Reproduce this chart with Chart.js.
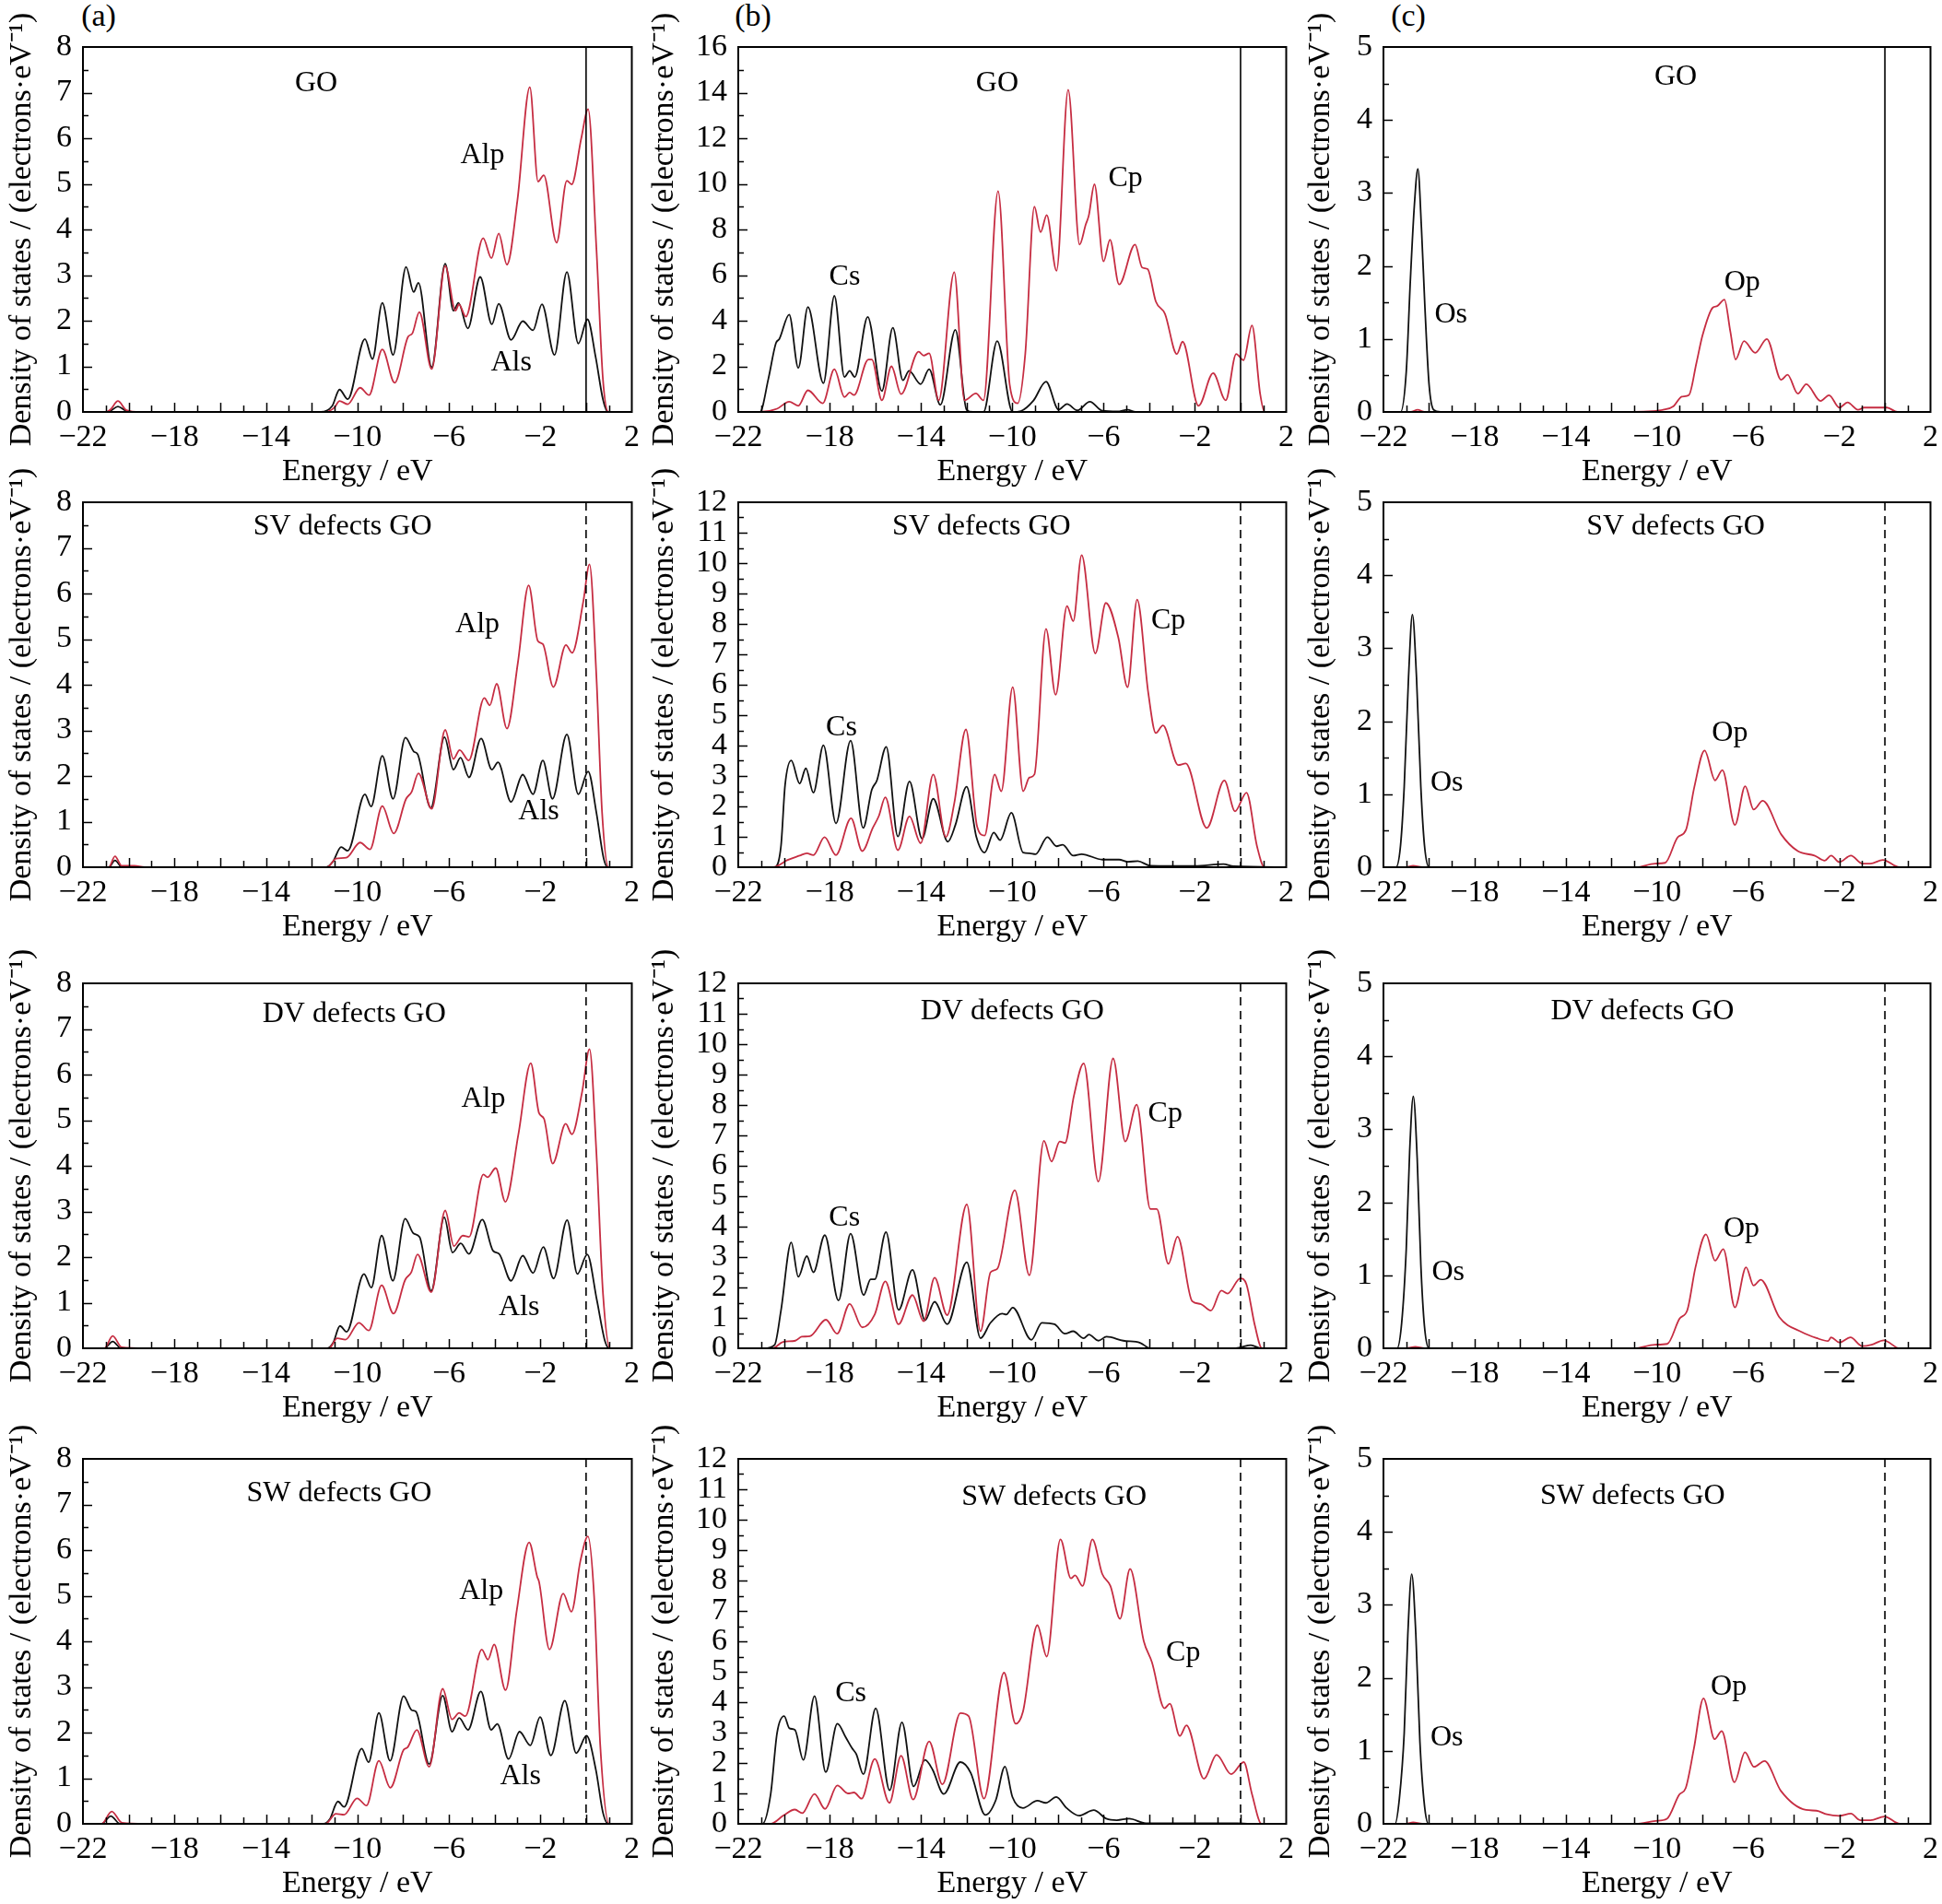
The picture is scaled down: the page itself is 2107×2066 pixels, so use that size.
<!DOCTYPE html>
<html>
<head>
<meta charset="utf-8">
<title>Partial density of states</title>
<script src="https://cdn.jsdelivr.net/npm/chart.js@4.4.1/dist/chart.umd.min.js"></script>
<style>
    html, body { margin: 0; padding: 0; background: #fff; overflow: hidden; }
    body { width: 2107px; height: 2066px; position: relative; font-family: 'Liberation Serif', 'Times New Roman', serif; }
    canvas { position: absolute; }
    .tag { position: absolute; font-size: 34px; line-height: 1; color: #000; transform: translate(-50%, -50%); }
</style>
</head>
<body>
<div class="tag" style="left:107px;top:17px">(a)</div>
<div class="tag" style="left:817px;top:17px">(b)</div>
<div class="tag" style="left:1528px;top:17px">(c)</div>
<script>
// Energy axis
const ENERGY_MIN = -22;
const ENERGY_MAX = 2;
const ENERGY_STEP = 4;
const FERMI_LEVEL = 0;
const ROW_TITLES = ['GO', 'SV defects GO', 'DV defects GO', 'SW defects GO'];

// [energy eV, DOS]
// --- GO ---
const GO_Als = [[-22,0],[-21,0],[-20.8,0.02],[-20.47,0.12],[-20.1,0.02],[-19.5,0],[-11.6,0],[-11.1,0.13],[-10.78,0.49],[-10.42,0.28],[-9.67,1.6],[-9.34,1.16],[-8.91,2.39],[-8.44,1.25],[-7.87,3.18],[-7.54,2.63],[-7.33,2.83],[-6.75,0.98],[-6.16,3.25],[-5.8,2.22],[-5.58,2.39],[-5.17,1.83],[-4.63,2.96],[-4.12,1.92],[-3.82,2.37],[-3.28,1.58],[-2.77,1.99],[-2.32,1.79],[-1.93,2.36],[-1.38,1.25],[-0.84,3.07],[-0.34,1.5],[0.06,2.03],[0.42,1.2],[0.74,0.27],[0.95,0],[2,0]];
const GO_Alp = [[-22,0],[-21,0],[-20.8,0.05],[-20.47,0.24],[-20.1,0.04],[-19.5,0],[-11.4,0],[-11.0,0.1],[-10.78,0.24],[-10.42,0.17],[-9.88,0.53],[-9.49,0.37],[-8.91,1.37],[-8.37,0.64],[-7.78,1.65],[-7.6,1.72],[-7.29,2.19],[-6.75,0.94],[-6.16,3.2],[-5.71,2.22],[-5.56,2.36],[-5.26,2.09],[-4.5,3.81],[-4.14,3.37],[-3.82,3.91],[-3.46,3.23],[-3.0,4.65],[-2.46,7.12],[-2.1,5.05],[-1.85,5.19],[-1.29,3.71],[-0.84,5.07],[-0.63,4.99],[-0.21,6.0],[0.09,6.64],[0.45,3.6],[0.74,0.7],[0.98,0],[2,0]];
const GO_Cs = [[-22,0],[-21.05,0],[-20.68,1.46],[-20.35,3.02],[-20.2,3.2],[-19.77,4.27],[-19.37,1.93],[-18.95,4.6],[-18.27,1.26],[-17.79,5.09],[-17.35,1.53],[-17.12,1.8],[-16.9,1.53],[-16.33,4.17],[-15.71,0.92],[-15.23,3.69],[-14.79,1.39],[-14.52,1.8],[-14.01,1.22],[-13.64,1.87],[-13.15,0.31],[-12.49,3.6],[-12.0,0.1],[-11.72,0],[-11.26,0],[-10.66,3.11],[-9.98,0],[-9.62,0.04],[-9.07,0.5],[-8.52,1.33],[-7.97,0.1],[-7.6,0.35],[-7.15,0.07],[-6.6,0.45],[-6.05,0.05],[-5.4,0.02],[-4.95,0.1],[-4.6,0],[2,0]];
const GO_Cp = [[-22,0],[-21.05,0],[-20.3,0.14],[-19.77,0.45],[-19.37,0.27],[-18.95,0.95],[-18.3,0.38],[-17.79,1.87],[-17.35,0.65],[-17.12,0.85],[-16.93,0.74],[-16.3,2.3],[-16.15,2.3],[-15.71,0.51],[-15.29,2.0],[-14.87,0.78],[-14.1,2.64],[-13.88,2.47],[-13.64,2.57],[-13.22,0.51],[-12.54,6.13],[-12.09,0.51],[-11.59,0.81],[-11.26,0.51],[-10.62,9.68],[-10.11,1.19],[-9.76,0.38],[-9.43,2.54],[-9.03,9.0],[-8.76,7.88],[-8.49,8.63],[-8.06,6.19],[-7.55,14.13],[-7.05,7.34],[-6.78,8.22],[-6.65,8.6],[-6.4,9.98],[-6.0,6.6],[-5.72,7.55],[-5.32,5.59],[-4.62,7.34],[-4.31,6.33],[-4.07,6.26],[-3.71,4.84],[-3.31,4.3],[-2.79,2.54],[-2.54,3.08],[-1.84,0.27],[-1.2,1.7],[-0.65,0.51],[-0.19,2.54],[0.13,2.27],[0.5,3.79],[0.86,0.78],[1.05,0],[2,0]];
const GO_Os = [[-22,0],[-21.25,0],[-21.0,0.55],[-20.82,1.8],[-20.64,2.85],[-20.49,3.33],[-20.33,2.5],[-20.18,1.43],[-20.0,0.38],[-19.8,0.03],[-19.5,0],[2,0]];
const GO_Op = [[-22,0],[-20.8,0],[-20.5,0.03],[-20.2,0],[-11,0],[-10.2,0.01],[-9.73,0.03],[-9.27,0.08],[-8.91,0.21],[-8.6,0.23],[-8.27,0.67],[-8.0,1.05],[-7.55,1.43],[-7.36,1.45],[-7.04,1.54],[-6.78,1.1],[-6.55,0.72],[-6.18,0.97],[-5.69,0.81],[-5.18,1.0],[-4.55,0.44],[-4.27,0.51],[-3.82,0.25],[-3.45,0.38],[-2.82,0.15],[-2.45,0.23],[-2.0,0.06],[-1.64,0.13],[-1.18,0.03],[-0.91,0.06],[0.09,0.06],[0.55,0],[2,0]];

// --- SV defects GO ---
const SV_Als = [[-22,0],[-20.87,0],[-20.6,0.15],[-20.29,0],[-11.38,0],[-11.07,0.12],[-10.71,0.44],[-10.42,0.36],[-9.67,1.6],[-9.4,1.33],[-8.91,2.44],[-8.44,1.5],[-7.9,2.84],[-7.54,2.54],[-7.36,2.47],[-6.79,1.3],[-6.19,2.85],[-5.8,2.14],[-5.49,2.4],[-5.12,1.97],[-4.59,2.82],[-4.12,2.14],[-3.85,2.3],[-3.28,1.43],[-2.77,2.03],[-2.32,1.6],[-1.89,2.34],[-1.47,1.5],[-0.84,2.91],[-0.34,1.6],[0.09,2.1],[0.45,1.2],[0.77,0.19],[0.95,0],[2,0]];
const SV_Alp = [[-22,0],[-20.87,0],[-20.6,0.24],[-20.3,0.03],[-19.75,0.03],[-19.3,0],[-11.32,0],[-10.93,0.19],[-10.48,0.21],[-9.88,0.54],[-9.45,0.39],[-8.91,1.34],[-8.41,0.74],[-7.87,1.5],[-7.63,1.65],[-7.33,2.06],[-6.75,1.28],[-6.16,3.01],[-5.8,2.37],[-5.53,2.57],[-5.13,2.34],[-4.45,3.71],[-4.21,3.55],[-3.91,4.02],[-3.46,3.04],[-2.98,4.49],[-2.51,6.18],[-2.11,4.96],[-1.89,4.89],[-1.43,3.95],[-0.88,4.87],[-0.61,4.7],[-0.12,5.83],[0.15,6.64],[0.45,4.2],[0.7,1.2],[0.98,0],[2,0]];
const SV_Cs = [[-22,0],[-20.41,0],[-20.13,0.69],[-19.95,2.7],[-19.68,3.51],[-19.31,2.75],[-19.04,3.25],[-18.71,2.45],[-18.27,4.01],[-17.72,1.44],[-17.08,4.16],[-16.53,1.29],[-16.15,2.55],[-15.93,2.85],[-15.52,3.96],[-15.01,1.01],[-14.5,2.82],[-13.95,0.94],[-13.46,2.25],[-12.82,0.84],[-12.49,1.39],[-12.0,2.65],[-11.57,0.99],[-11.21,0.48],[-10.81,1.14],[-10.53,0.89],[-10.04,1.79],[-9.52,0.48],[-9.25,0.46],[-8.98,0.43],[-8.46,0.99],[-8.06,0.69],[-7.79,0.74],[-7.33,0.38],[-6.96,0.43],[-6.05,0.25],[-5.32,0.25],[-4.95,0.18],[-4.5,0.2],[-3.95,0.05],[-2.0,0.04],[-0.75,0.1],[-0.3,0.03],[2,0]];
const SV_Cp = [[-22,0],[-20.6,0],[-20.32,0.03],[-19.86,0.23],[-19.31,0.38],[-19.0,0.46],[-18.71,0.4],[-18.22,0.99],[-17.72,0.4],[-17.06,1.61],[-16.57,0.53],[-16.11,1.29],[-15.84,1.69],[-15.56,2.3],[-15.01,0.56],[-14.5,1.67],[-14.01,0.79],[-13.46,3.05],[-12.91,0.99],[-12.54,2.1],[-12.03,4.53],[-11.54,1.34],[-11.21,1.04],[-10.77,3.05],[-10.48,2.5],[-9.98,5.92],[-9.52,2.5],[-9.25,2.95],[-9.03,3.05],[-8.52,7.84],[-8.1,5.67],[-7.6,8.59],[-7.33,8.09],[-6.96,10.26],[-6.36,7.03],[-5.9,8.69],[-5.35,7.54],[-4.95,5.92],[-4.53,8.8],[-4.04,5.72],[-3.71,4.41],[-3.4,4.66],[-2.73,3.36],[-2.4,3.41],[-1.48,1.29],[-0.71,2.85],[-0.24,1.84],[0.26,2.45],[0.72,0.69],[1.05,0],[2,0]];
const SV_Os = [[-22,0],[-21.45,0],[-21.25,0.3],[-21.09,1.1],[-20.9,2.6],[-20.73,3.46],[-20.55,2.6],[-20.36,1.1],[-20.2,0.3],[-20.0,0],[2,0]];
const SV_Op = [[-22,0],[-21,0],[-20.7,0.02],[-20.3,0],[-10.91,0],[-10.09,0.05],[-9.64,0.06],[-9.09,0.41],[-8.73,0.51],[-8.36,1.1],[-7.91,1.6],[-7.45,1.19],[-7.13,1.33],[-6.58,0.58],[-6.13,1.11],[-5.76,0.79],[-5.36,0.91],[-4.55,0.45],[-3.82,0.22],[-3.09,0.16],[-2.64,0.09],[-2.36,0.16],[-2.0,0.07],[-1.49,0.16],[-1.0,0.05],[-0.64,0.05],[-0.09,0.1],[0.64,0],[2,0]];

// --- DV defects GO ---
const DV_Als = [[-22,0],[-21.06,0],[-20.7,0.15],[-20.34,0],[-11.33,0],[-11.06,0.12],[-10.76,0.49],[-10.47,0.36],[-9.71,1.63],[-9.39,1.33],[-8.94,2.47],[-8.45,1.48],[-7.91,2.84],[-7.55,2.52],[-7.28,2.44],[-6.77,1.26],[-6.2,2.87],[-5.84,2.1],[-5.48,2.3],[-5.12,2.07],[-4.54,2.82],[-4.07,2.14],[-3.8,2.07],[-3.28,1.48],[-2.77,2.03],[-2.32,1.65],[-1.87,2.22],[-1.42,1.53],[-0.83,2.81],[-0.38,1.63],[0.05,2.06],[0.47,1.06],[0.83,0.15],[1.0,0],[2,0]];
const DV_Alp = [[-22,0],[-21.06,0],[-20.7,0.27],[-20.3,0.02],[-19.3,0],[-11.24,0],[-10.88,0.22],[-10.52,0.19],[-9.93,0.56],[-9.5,0.39],[-8.94,1.38],[-8.42,0.76],[-7.91,1.5],[-7.64,1.67],[-7.37,2.06],[-6.77,1.23],[-6.16,3.02],[-5.78,2.24],[-5.39,2.47],[-5.12,2.44],[-4.49,3.81],[-4.31,3.75],[-3.95,3.95],[-3.53,3.21],[-2.96,4.69],[-2.42,6.25],[-2.06,5.16],[-1.84,5.03],[-1.46,4.05],[-0.89,4.92],[-0.62,4.69],[-0.17,5.63],[0.15,6.56],[0.45,4.3],[0.74,1.2],[1.05,0],[2,0]];
const DV_Cs = [[-22,0],[-20.87,0],[-20.41,0.11],[-20.13,1.24],[-19.68,3.48],[-19.37,2.35],[-19.0,3.03],[-18.71,2.5],[-18.21,3.72],[-17.61,1.57],[-17.08,3.77],[-16.51,1.75],[-16.2,2.27],[-16.02,2.27],[-15.53,3.82],[-14.98,1.26],[-14.37,2.58],[-13.82,0.92],[-13.4,1.53],[-12.85,0.79],[-11.99,2.83],[-11.39,0.33],[-10.95,0.84],[-10.44,1.14],[-10.26,1.11],[-9.98,1.34],[-9.16,0.28],[-8.7,0.84],[-8.15,0.79],[-7.69,0.48],[-7.33,0.56],[-6.87,0.33],[-6.64,0.45],[-6.23,0.25],[-5.87,0.38],[-5.14,0.25],[-4.4,0.18],[-3.95,0],[-0.3,0],[-0.01,0.03],[0.45,0.1],[0.91,0],[2,0]];
const DV_Cp = [[-22,0],[-20.5,0],[-20.04,0.21],[-19.5,0.25],[-19.22,0.38],[-18.86,0.4],[-18.16,0.94],[-17.67,0.48],[-17.12,1.46],[-16.57,0.69],[-16.02,1.12],[-15.56,2.2],[-14.98,0.79],[-14.37,1.75],[-13.88,0.89],[-13.4,2.32],[-12.85,1.09],[-11.99,4.73],[-11.39,0.56],[-10.95,2.5],[-10.66,2.61],[-9.89,5.2],[-9.25,2.4],[-8.61,6.82],[-8.28,6.14],[-7.92,6.8],[-7.69,6.75],[-7.3,8.3],[-6.87,9.37],[-6.23,5.48],[-5.58,9.53],[-5.05,6.8],[-4.55,8.01],[-3.95,4.58],[-3.67,4.58],[-3.16,2.78],[-2.76,3.67],[-2.12,1.55],[-1.76,1.46],[-1.3,1.24],[-0.84,1.9],[-0.57,1.8],[-0.01,2.3],[0.26,2.1],[0.63,0.74],[0.94,0],[2,0]];
const DV_Os = [[-22,0],[-21.4,0],[-21.2,0.35],[-21.0,1.36],[-20.85,2.7],[-20.69,3.45],[-20.52,2.6],[-20.36,1.15],[-20.2,0.3],[-20.0,0],[2,0]];
const DV_Op = [[-22,0],[-21,0],[-20.6,0.02],[-20.2,0],[-11.0,0],[-10.09,0.05],[-9.55,0.06],[-9.0,0.41],[-8.67,0.52],[-8.31,1.11],[-7.85,1.56],[-7.45,1.2],[-7.09,1.36],[-6.58,0.56],[-6.09,1.11],[-5.76,0.86],[-5.45,0.94],[-4.64,0.43],[-3.64,0.22],[-3.0,0.14],[-2.49,0.1],[-2.36,0.15],[-2.0,0.08],[-1.51,0.15],[-1.0,0.03],[-0.58,0.05],[-0.05,0.11],[0.64,0],[2,0]];

// --- SW defects GO ---
const SW_Als = [[-22,0],[-21.19,0],[-20.78,0.17],[-20.38,0],[-11.48,0],[-11.21,0.1],[-10.85,0.49],[-10.58,0.37],[-9.81,1.65],[-9.51,1.35],[-9.06,2.43],[-8.57,1.38],[-7.98,2.8],[-7.62,2.49],[-7.44,2.46],[-6.86,1.31],[-6.27,2.81],[-5.86,2.02],[-5.55,2.32],[-5.16,2.06],[-4.6,2.9],[-4.15,2.06],[-3.88,2.19],[-3.39,1.42],[-2.91,2.02],[-2.44,1.72],[-2.01,2.34],[-1.54,1.5],[-0.93,2.7],[-0.43,1.55],[0.02,1.93],[0.43,1.18],[0.74,0.24],[0.97,0],[2,0]];
const SW_Alp = [[-22,0],[-21.19,0],[-20.74,0.27],[-20.29,0.02],[-19.3,0],[-11.39,0],[-10.94,0.22],[-10.58,0.2],[-10.01,0.56],[-9.6,0.4],[-9.06,1.38],[-8.56,0.79],[-7.98,1.62],[-7.8,1.68],[-7.4,2.06],[-6.86,1.25],[-6.27,2.96],[-5.86,2.29],[-5.55,2.43],[-5.28,2.36],[-4.56,3.82],[-4.29,3.6],[-4.02,3.93],[-3.52,2.93],[-3.03,4.68],[-2.49,6.17],[-2.14,5.42],[-2.05,5.29],[-1.6,3.82],[-1.0,5.05],[-0.64,4.65],[-0.25,5.76],[0.08,6.3],[0.35,5.0],[0.62,1.72],[1.01,0],[2,0]];
const SW_Cs = [[-22,0],[-20.94,0],[-20.58,0.98],[-20.3,2.99],[-19.99,3.54],[-19.76,3.14],[-19.52,3.09],[-19.15,2.1],[-18.66,4.2],[-18.17,1.7],[-17.66,3.29],[-17.29,2.84],[-17.02,2.49],[-16.83,2.29],[-16.52,1.63],[-15.98,3.8],[-15.37,1.1],[-14.83,3.34],[-14.32,1.23],[-13.82,2.1],[-13.49,1.78],[-13.0,0.98],[-12.27,2.03],[-11.82,1.68],[-11.18,0.29],[-10.72,0.78],[-10.32,1.88],[-9.99,0.88],[-9.53,0.52],[-8.9,0.76],[-8.53,0.69],[-8.07,0.88],[-7.62,0.52],[-7.07,0.27],[-6.43,0.45],[-5.88,0.17],[-5.42,0.12],[-4.88,0.17],[-4.15,0.02],[-0.14,0.02],[0.41,0],[2,0]];
const SW_Cp = [[-22,0],[-20.58,0],[-20.03,0.27],[-19.52,0.47],[-19.2,0.35],[-18.66,0.98],[-18.2,0.49],[-17.66,1.26],[-17.2,1.0],[-16.93,1.03],[-16.6,0.83],[-16.02,2.13],[-15.38,0.69],[-14.87,2.24],[-14.34,0.8],[-13.64,2.71],[-13.06,1.3],[-12.27,3.64],[-11.91,3.54],[-11.24,0.83],[-10.36,4.97],[-9.85,3.29],[-9.53,3.69],[-8.9,6.53],[-8.49,5.5],[-7.89,9.35],[-7.43,8.07],[-7.25,8.17],[-6.92,7.82],[-6.49,9.35],[-6.06,8.22],[-5.7,7.82],[-5.28,6.74],[-4.84,8.38],[-4.24,6.01],[-3.88,5.31],[-3.33,3.8],[-3.1,3.95],[-2.66,2.89],[-2.37,3.24],[-1.6,1.48],[-1.05,2.27],[-0.41,1.63],[0.14,2.03],[0.5,0.98],[0.92,0],[2,0]];
const SW_Os = [[-22,0],[-21.49,0],[-21.3,0.35],[-21.09,1.24],[-20.93,2.6],[-20.76,3.42],[-20.58,2.6],[-20.4,1.12],[-20.2,0.25],[-20.03,0],[2,0]];
const SW_Op = [[-22,0],[-21,0],[-20.7,0.02],[-20.3,0],[-10.93,0],[-10.06,0.04],[-9.56,0.07],[-9.02,0.4],[-8.74,0.49],[-8.38,1.03],[-7.96,1.72],[-7.47,1.16],[-7.16,1.27],[-6.6,0.57],[-6.14,0.98],[-5.74,0.78],[-5.28,0.86],[-4.56,0.45],[-3.46,0.19],[-3.0,0.18],[-2.55,0.13],[-2.0,0.11],[-1.49,0.14],[-1.09,0.05],[-0.63,0.05],[-0.02,0.1],[0.66,0],[2,0]];

// layout of the 3 x 4 grid (page pixels)
const COLS = [
    {left: 90, width: 596, yAxisW: 90},
    {left: 801, width: 595, yAxisW: 104},
    {left: 1501, width: 594, yAxisW: 92}
];
const ROW_TOPS = [51, 545, 1067, 1583];
const PLOT_H = 396;
const X_AXIS_H = 89;
const RED = '#c62d42';
const SERIF = "'Liberation Serif', 'Times New Roman', serif";

const panels = [
    {row: 0, col: 0, s: GO_Als, p: GO_Alp, sName: 'Als', pName: 'Alp', yMax: 8, step: 1, minor: 0.5,
        pos: {title: [-11.8, 7.2], s: [-3.27, 1.08], p: [-4.53, 5.63]}},
    {row: 0, col: 1, s: GO_Cs, p: GO_Cp, sName: 'Cs', pName: 'Cp', yMax: 16, step: 2, minor: 1,
        pos: {title: [-10.66, 14.4], s: [-17.34, 5.92], p: [-5.04, 10.25]}},
    {row: 0, col: 2, s: GO_Os, p: GO_Op, sName: 'Os', pName: 'Op', yMax: 5, step: 1, minor: 0.5,
        pos: {title: [-9.18, 4.59], s: [-19.04, 1.33], p: [-6.26, 1.77]}},
    {row: 1, col: 0, s: SV_Als, p: SV_Alp, sName: 'Als', pName: 'Alp', yMax: 8, step: 1, minor: 0.5,
        pos: {title: [-10.65, 7.47], s: [-2.07, 1.23], p: [-4.75, 5.33]}},
    {row: 1, col: 1, s: SV_Cs, p: SV_Cp, sName: 'Cs', pName: 'Cp', yMax: 12, step: 1, minor: 0.5,
        pos: {title: [-11.35, 11.2], s: [-17.48, 4.6], p: [-3.16, 8.1]}},
    {row: 1, col: 2, s: SV_Os, p: SV_Op, sName: 'Os', pName: 'Op', yMax: 5, step: 1, minor: 0.5,
        pos: {title: [-9.18, 4.66], s: [-19.22, 1.16], p: [-6.8, 1.84]}},
    {row: 2, col: 0, s: DV_Als, p: DV_Alp, sName: 'Als', pName: 'Alp', yMax: 8, step: 1, minor: 0.5,
        pos: {title: [-10.14, 7.32], s: [-2.93, 0.89], p: [-4.49, 5.46]}},
    {row: 2, col: 1, s: DV_Cs, p: DV_Cp, sName: 'Cs', pName: 'Cp', yMax: 12, step: 1, minor: 0.5,
        pos: {title: [-10.0, 11.06], s: [-17.35, 4.27], p: [-3.3, 7.7]}},
    {row: 2, col: 2, s: DV_Os, p: DV_Op, sName: 'Os', pName: 'Op', yMax: 5, step: 1, minor: 0.5,
        pos: {title: [-10.64, 4.62], s: [-19.16, 1.04], p: [-6.29, 1.64]}},
    {row: 3, col: 0, s: SW_Als, p: SW_Alp, sName: 'Als', pName: 'Alp', yMax: 8, step: 1, minor: 0.5,
        pos: {title: [-10.8, 7.24], s: [-2.87, 1.04], p: [-4.58, 5.1]}},
    {row: 3, col: 1, s: SW_Cs, p: SW_Cp, sName: 'Cs', pName: 'Cp', yMax: 12, step: 1, minor: 0.5,
        pos: {title: [-8.17, 10.74], s: [-17.07, 4.3], p: [-2.51, 5.61]}},
    {row: 3, col: 2, s: SW_Os, p: SW_Op, sName: 'Os', pName: 'Op', yMax: 5, step: 1, minor: 0.5,
        pos: {title: [-11.07, 4.49], s: [-19.22, 1.18], p: [-6.85, 1.88]}}
];

function toPoints(series) {
    return series.map(([e, d]) => ({x: e, y: d}));
}

function minusLabel(v) {
    return v < 0 ? '\u2212' + Math.abs(v) : String(v);
}

// frame, inward ticks, Fermi line and text labels
function decorPlugin(panel) {
    return {
        id: 'decor',
        afterDatasetsDraw(chart) {
            const {ctx, chartArea: a, scales: {x, y}} = chart;
            ctx.save();
            ctx.strokeStyle = '#000';

            const fx = x.getPixelForValue(FERMI_LEVEL);
            ctx.lineWidth = 1.6;
            ctx.setLineDash(panel.row === 0 ? [] : [9, 6]);
            ctx.beginPath();
            ctx.moveTo(fx, a.top);
            ctx.lineTo(fx, a.bottom);
            ctx.stroke();
            ctx.setLineDash([]);

            ctx.lineWidth = 1.5;
            ctx.beginPath();
            for (let e = ENERGY_MIN + 1; e < ENERGY_MAX; e++) {
                const px = Math.round(x.getPixelForValue(e)) + 0.5;
                const len = e % 2 === 0 ? 10 : 7;
                ctx.moveTo(px, a.bottom);
                ctx.lineTo(px, a.bottom - len);
            }
            for (let v = panel.minor; v < panel.yMax; v += panel.minor) {
                const py = Math.round(y.getPixelForValue(v)) + 0.5;
                const len = Math.abs(v / panel.step - Math.round(v / panel.step)) < 1e-6 ? 10 : 6;
                ctx.moveTo(a.left, py);
                ctx.lineTo(a.left + len, py);
            }
            ctx.stroke();

            ctx.lineWidth = 2;
            ctx.strokeRect(a.left, a.top, a.width, a.height);

            ctx.fillStyle = '#000';
            ctx.textAlign = 'center';
            ctx.textBaseline = 'middle';
            ctx.font = '32px ' + SERIF;
            const notes = [
                [ROW_TITLES[panel.row], panel.pos.title],
                [panel.sName, panel.pos.s],
                [panel.pName, panel.pos.p]
            ];
            notes.forEach(([text, [e, d]]) => {
                ctx.fillText(text, x.getPixelForValue(e), y.getPixelForValue(d));
            });
            ctx.restore();
        }
    };
}

function buildPanel(panel) {
    const col = COLS[panel.col];
    const plotTop = ROW_TOPS[panel.row];
    const padTop = Math.min(50, plotTop);
    const padRight = 16;

    const canvas = document.createElement('canvas');
    canvas.width = col.yAxisW + col.width + padRight;
    canvas.height = padTop + PLOT_H + X_AXIS_H;
    canvas.style.left = (col.left - col.yAxisW) + 'px';
    canvas.style.top = (plotTop - padTop) + 'px';
    document.body.appendChild(canvas);

    new Chart(canvas, {
        type: 'line',
        data: {
            datasets: [
                {label: panel.pName, data: toPoints(panel.p), borderColor: RED},
                {label: panel.sName, data: toPoints(panel.s), borderColor: '#111'}
            ]
        },
        options: {
            responsive: false,
            animation: false,
            devicePixelRatio: 1,
            layout: {padding: {top: padTop, right: padRight, left: 0, bottom: 0}},
            elements: {
                point: {radius: 0},
                line: {borderWidth: 1.8, cubicInterpolationMode: 'monotone', fill: false}
            },
            plugins: {legend: {display: false}, tooltip: {enabled: false}},
            scales: {
                x: {
                    type: 'linear',
                    min: ENERGY_MIN,
                    max: ENERGY_MAX,
                    grid: {display: false, drawTicks: false},
                    border: {display: false},
                    ticks: {
                        stepSize: ENERGY_STEP,
                        autoSkip: false,
                        maxRotation: 0,
                        padding: 8,
                        color: '#000',
                        font: {family: SERIF, size: 34},
                        callback: v => minusLabel(v)
                    },
                    title: {display: true, text: 'Energy / eV', color: '#000', font: {family: SERIF, size: 34}},
                    afterFit: s => { s.height = X_AXIS_H; }
                },
                y: {
                    type: 'linear',
                    min: 0,
                    max: panel.yMax,
                    grid: {display: false, drawTicks: false},
                    border: {display: false},
                    ticks: {
                        stepSize: panel.step,
                        autoSkip: false,
                        padding: 12,
                        color: '#000',
                        font: {family: SERIF, size: 34}
                    },
                    title: {
                        display: true,
                        text: 'Density of states / (electrons\u00b7eV\u207b\u00b9)',
                        color: '#000',
                        font: {family: SERIF, size: 34}
                    },
                    afterFit: s => { s.width = col.yAxisW; }
                }
            }
        },
        plugins: [decorPlugin(panel)]
    });
}

document.addEventListener('DOMContentLoaded', function () {
    panels.forEach(buildPanel);
});
</script>
</body>
</html>
